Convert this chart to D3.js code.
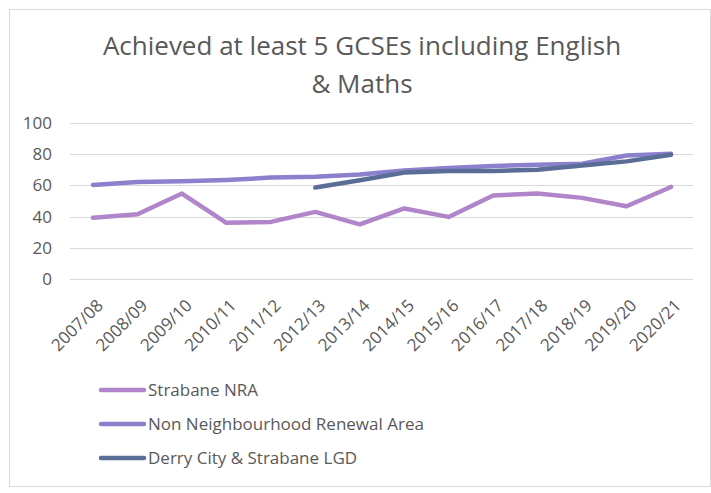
<!DOCTYPE html>
<html lang="en">
  <head>
    <meta charset="utf-8">
    <title>GCSEs chart</title>
    <script src="https://d3js.org/d3.v7.min.js"></script>
    <style>
      body { margin: 0; background: #fff; }
      text { font-family: "Open Sans", "Lato", sans-serif; fill: #595959; }
      .grid line { stroke: #d9d9d9; stroke-width: 1; }
      .axis text { font-size: 17px; }
    </style>
  </head>
  <body>
    <svg width="711" height="493" id="chart"></svg>
    <script>
      const years = ["2007/08", "2008/09", "2009/10", "2010/11", "2011/12", "2012/13", "2013/14",
                     "2014/15", "2015/16", "2016/17", "2017/18", "2018/19", "2019/20", "2020/21"];
      const strabaneNRA = [39.2, 41.5, 54.8, 36, 36.6, 43, 35, 45.2, 39.8, 53.5, 54.8, 52, 46.6, 59];
      const nonNRA = [60.3, 62.2, 62.6, 63.5, 65, 65.6, 67, 69.6, 71.1, 72.4, 73.3, 73.9, 79.2, 80.3];
      const derryLGD = [null, null, null, null, null, 58.6, 63.3, 68.2, 69.2, 69.2, 70.1, 72.8, 75.4, 79.7];
      const yTicks = [0, 20, 40, 60, 80, 100];

      const seriesNames = ["Strabane NRA", "Non Neighbourhood Renewal Area", "Derry City & Strabane LGD"];
      const seriesColors = ["#b085c9", "#8b80cc", "#5a6d96"];
      const series = [strabaneNRA, nonNRA, derryLGD];

      const svg = d3.select("#chart");

      // chart border
      svg.append("rect")
          .attr("x", 9.5).attr("y", 9.5)
          .attr("width", 701).attr("height", 477)
          .attr("fill", "#fff")
          .attr("stroke", "#d9d9d9");

      // title
      const title = svg.append("text")
          .attr("text-anchor", "middle")
          .attr("font-size", 26);
      title.append("tspan").attr("x", 362).attr("y", 55).text("Achieved at least 5 GCSEs including English");
      title.append("tspan").attr("x", 362).attr("y", 93).text("& Maths");

      const x = d3.scalePoint()
          .domain(years)
          .range([93, 671]);

      const y = d3.scaleLinear()
          .domain([0, 100])
          .range([279, 123]);

      // gridlines
      svg.append("g")
          .attr("class", "grid")
          .selectAll("line")
          .data(yTicks)
          .join("line")
          .attr("x1", 70).attr("x2", 693)
          .attr("y1", d => Math.round(y(d)) + 0.5)
          .attr("y2", d => Math.round(y(d)) + 0.5);

      // y axis labels
      const leftAxis = d3.axisLeft(y).tickValues(yTicks).tickSize(0).tickPadding(0);
      svg.append("g")
          .attr("class", "axis")
          .attr("transform", "translate(52,0)")
          .call(leftAxis)
          .call(g => g.select(".domain").remove());

      // x axis labels
      const bottomAxis = d3.axisBottom(x).tickSize(0);
      svg.append("g")
          .attr("class", "axis")
          .attr("transform", "translate(0,279)")
          .call(bottomAxis)
          .call(g => g.select(".domain").remove())
          .selectAll("text")
            .attr("font-size", 16)
            .style("text-anchor", "end")
            .attr("x", -12)
            .attr("y", 27)
            .attr("dy", 0)
            .attr("transform", "rotate(-45)");

      // lines
      const line = d3.line()
          .defined(d => d != null)
          .x((d, i) => x(years[i]))
          .y(d => y(d));

      svg.append("g")
          .selectAll("path")
          .data(series)
          .join("path")
          .attr("d", d => line(d))
          .attr("fill", "none")
          .attr("stroke", (d, i) => seriesColors[i])
          .attr("stroke-width", 4.5)
          .attr("stroke-linecap", "round")
          .attr("stroke-linejoin", "round");

      // legend
      const legend = svg.append("g")
          .selectAll("g")
          .data(seriesNames)
          .join("g")
          .attr("transform", (d, i) => "translate(0," + (390 + i * 34) + ")");

      legend.append("line")
          .attr("x1", 101).attr("x2", 144)
          .attr("y1", 0).attr("y2", 0)
          .attr("stroke", (d, i) => seriesColors[i])
          .attr("stroke-width", 4.5)
          .attr("stroke-linecap", "round");

      legend.append("text")
          .attr("x", 148)
          .attr("dy", "0.35em")
          .attr("font-size", 17)
          .text(d => d);
    </script>
  </body>
</html>
